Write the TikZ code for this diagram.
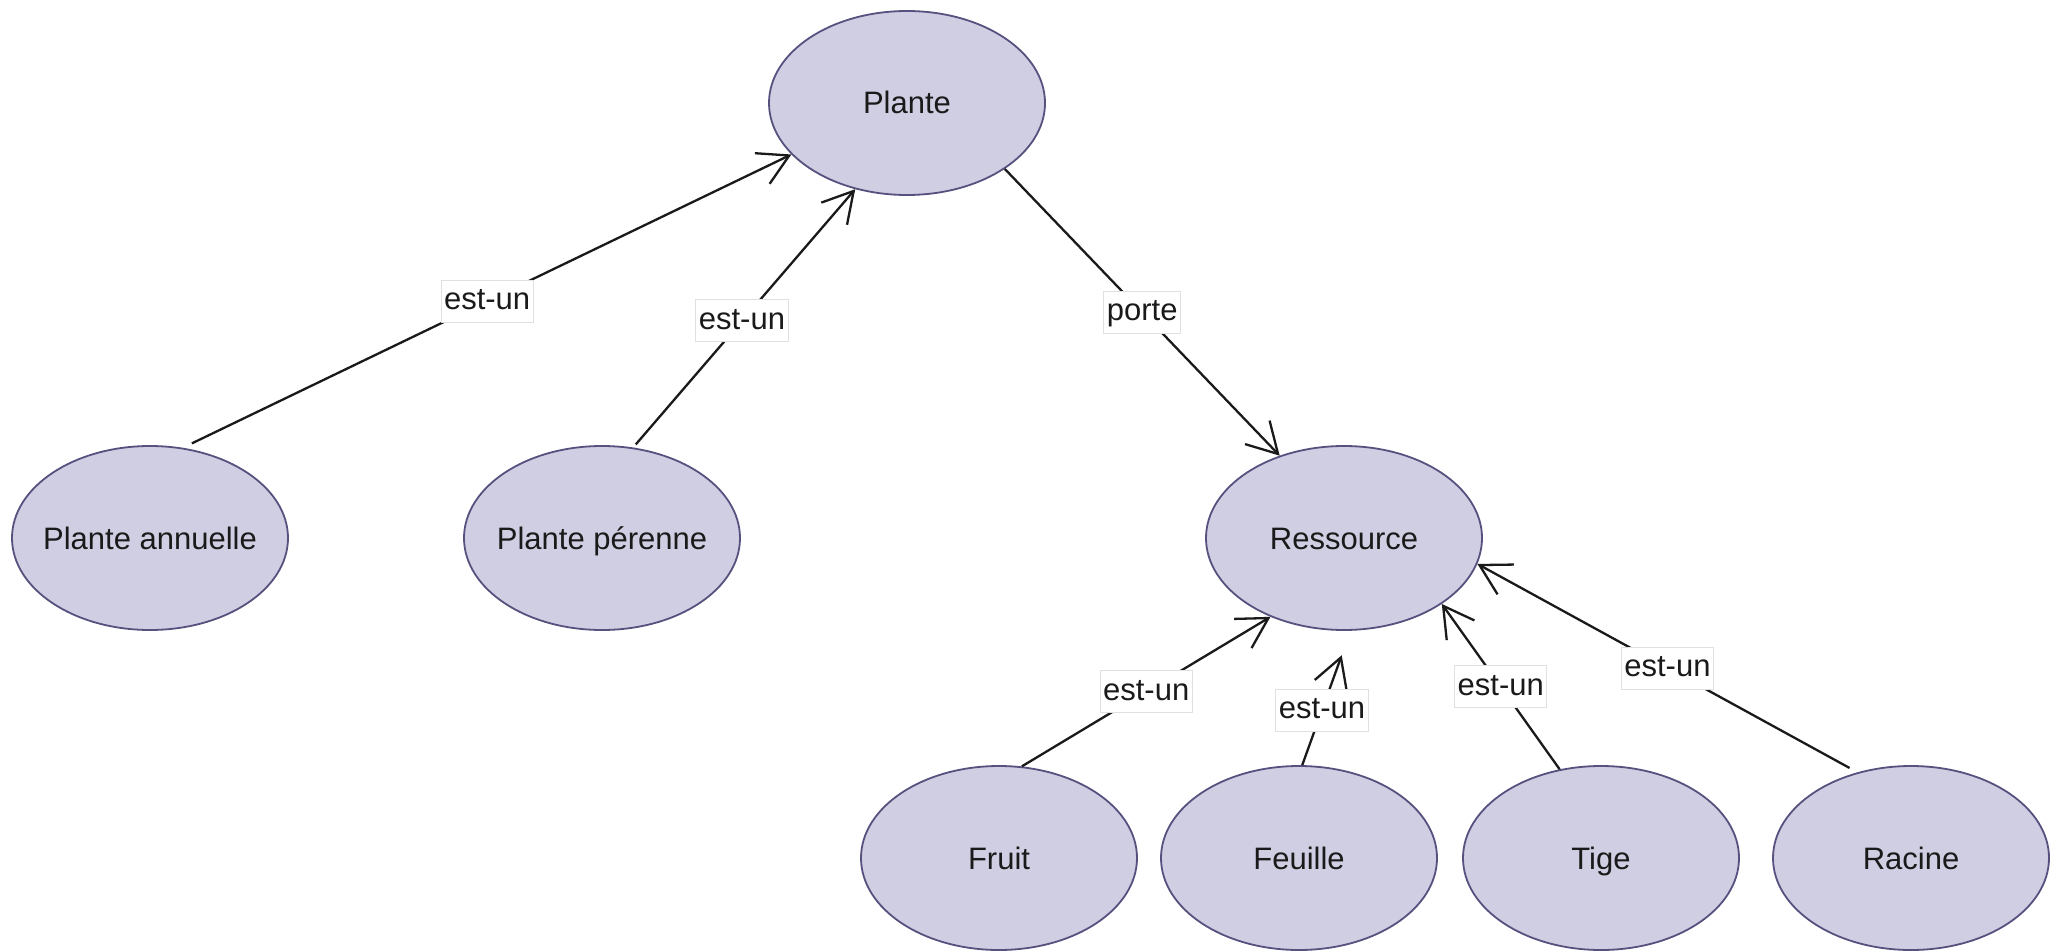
\documentclass[tikz,border=0pt]{standalone}
\usepackage{fontspec}
\setmainfont{Liberation Sans}
\usetikzlibrary{shapes.geometric,arrows.meta}
\definecolor{nodefill}{HTML}{D0CEE2}
\definecolor{nodeline}{HTML}{56517E}
\definecolor{ink}{HTML}{1A1A1A}
\definecolor{labelline}{HTML}{E0E0E0}

\begin{document}
\begin{tikzpicture}[x=1pt,y=-1pt,
  concept/.style={ellipse, draw=nodeline, fill=nodefill, line width=1.8pt,
    minimum width=276pt, minimum height=184pt, inner sep=0pt, text=ink,
    text height=26pt, text depth=4pt,
    font=\fontsize{31}{37}\selectfont},
  link/.style={draw=ink, line width=2.3pt,
    -{Straight Barb[length=30pt,width=34pt]}},
  rel/.style={fill=white, draw=labelline, line width=1pt, text=ink,
    font=\fontsize{31}{37}\selectfont, inner xsep=3pt, inner ysep=0pt,
    text height=24pt, text depth=7pt, minimum height=42pt}]
\useasboundingbox (0,0) rectangle (2062,952);
\fill[white] (0,0) rectangle (2062,952);

% concepts
\node[concept] (plante)    at (907,103)  {\makebox[0pt]{Plante}};
\node[concept] (annuelle)  at (150,538)  {\makebox[0pt]{Plante annuelle}};
\node[concept] (perenne)   at (602,538)  {\makebox[0pt]{Plante pérenne}};
\node[concept] (ressource) at (1344,538) {\makebox[0pt]{Ressource}};
\node[concept] (fruit)     at (999,858)  {\makebox[0pt]{Fruit}};
\node[concept] (feuille)   at (1299,858) {\makebox[0pt]{Feuille}};
\node[concept] (tige)      at (1601,858) {\makebox[0pt]{Tige}};
\node[concept] (racine)    at (1911,858) {\makebox[0pt]{Racine}};

% relations
\draw[link, shorten <=10pt] (annuelle.70) -- node[rel, pos=0.5] {est-un} (plante.204);
\draw[link, shorten <=4pt]  (perenne.71)  -- node[rel, pos=0.49] {est-un} (plante.239);
\draw[link] (plante.-34) -- node[rel, pos=0.5] {porte} (ressource.128);
\draw[link] (fruit.76)   -- node[rel, pos=0.5] {est-un} (ressource.227);
\draw[link, shorten >=26pt] (feuille.88) -- node[rel, pos=0.41] {est-un} (ressource.274);
\draw[link] (tige.115)   -- node[rel, pos=0.5] {est-un} (ressource.-34);
\draw[link, shorten <=9pt] (racine.122) -- node[rel, pos=0.5] {est-un} (ressource.-11);
\end{tikzpicture}
\end{document}
